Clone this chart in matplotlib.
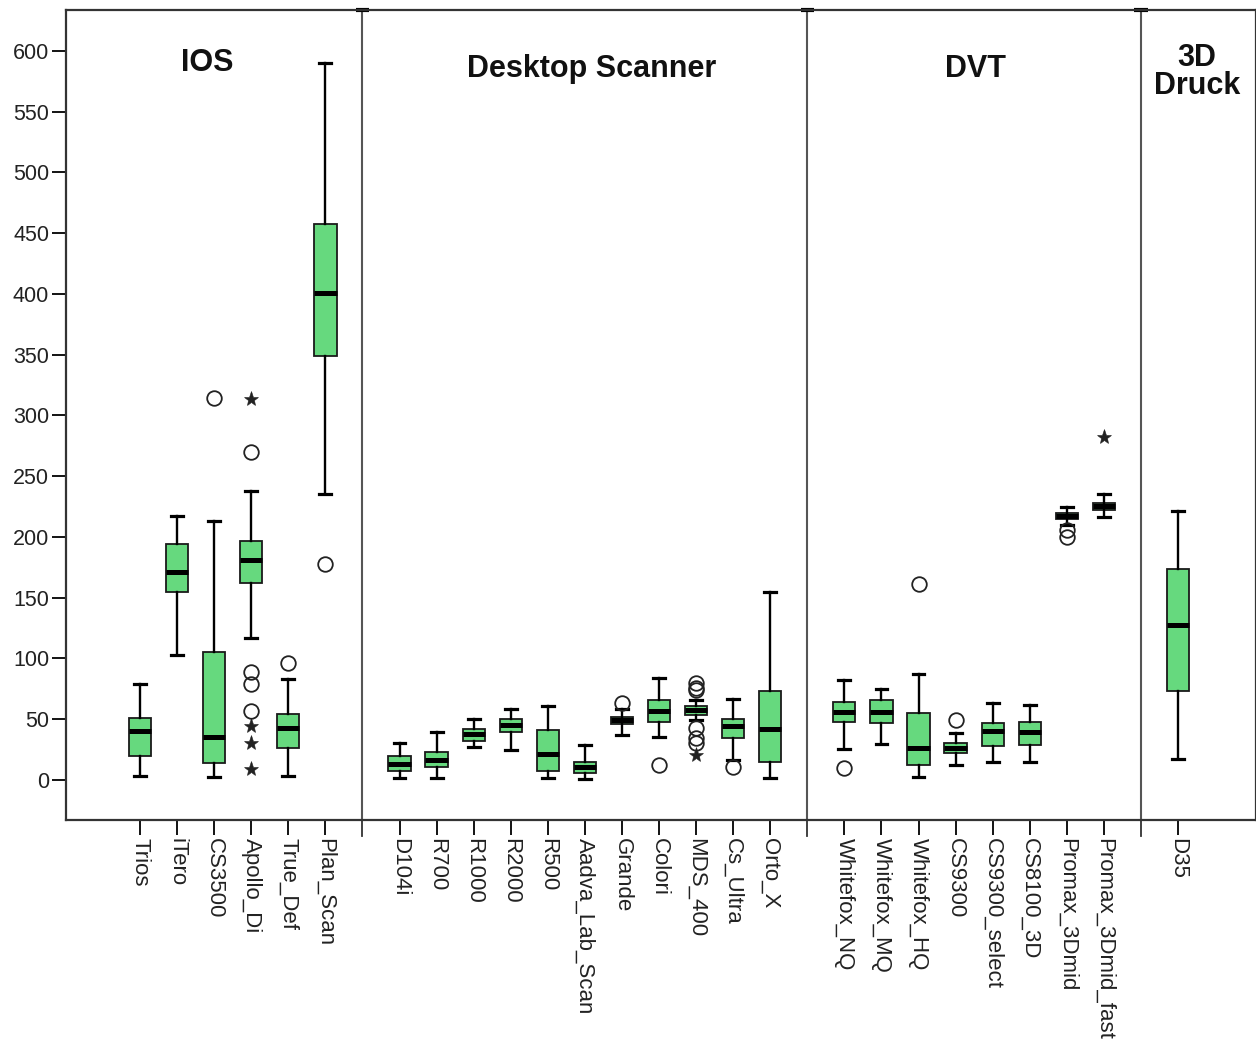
import matplotlib
matplotlib.use("Agg")
import matplotlib.pyplot as plt
from matplotlib.lines import Line2D

plt.rcParams['font.family'] = ['Liberation Sans', 'DejaVu Sans']

# ---------------- data ----------------
groups = ["IOS", "Desktop Scanner", "DVT", "3D\nDruck"]
group_sizes = [6, 11, 8, 1]

names = ["Trios", "iTero", "CS3500", "Apollo_Di", "True_Def", "Plan_Scan",
         "D104i", "R700", "R1000", "R2000", "R500", "Aadva_Lab_Scan", "Grande",
         "Colori", "MDS_400", "Cs_Ultra", "Orto_X",
         "Whitefox_NQ", "Whitefox_MQ", "Whitefox_HQ", "CS9300", "CS9300_select",
         "CS8100_3D", "Promax_3Dmid", "Promax_3Dmid_fast",
         "D35"]

whislo = [3.6, 102.5, 2, 117, 3, 235.5,
          1.4, 1.4, 27, 24.7, 1.4, 0.5, 37, 35.7, 49, 16.5, 1.4,
          25.5, 29.6, 2.7, 12.3, 14.5, 14.5, 210, 216.7,
          17.3]
q1 = [20, 155, 14, 162, 26, 349,
      7, 10.4, 32, 39.8, 7.4, 5.5, 46, 48, 53.5, 34.3, 14.5,
      48, 46.6, 12.3, 22, 28, 28.4, 214.5, 222.2,
      73.3]
med = [40, 171, 35, 181, 43, 401,
       13, 16, 37.6, 45.3, 21.4, 10.4, 49, 57, 57.3, 44.7, 41.7,
       55.7, 55.7, 26, 26.6, 40.3, 39.8, 217.3, 225.5,
       127.6]
q3 = [51, 194, 105.6, 197, 54, 457.7,
      19.7, 23, 42, 50.2, 41, 14.8, 52, 65.8, 61, 50, 73.2,
      64.5, 65.8, 54.9, 30.2, 46.6, 48, 220, 228.2,
      173.4]
whishi = [79, 217, 213, 238, 83, 590,
          30.7, 39.5, 50, 58.7, 61, 28.5, 58.7, 83.7, 66, 66.4, 155,
          82.3, 74.6, 87.2, 39, 63.6, 61.7, 225, 235.4,
          221.4]
# outliers shown as open circles
circles = [[], [], [314], [270, 89, 79, 57], [96], [177.4],
           [], [], [], [], [], [], [63], [12.3], [79.5, 76, 74, 42.5, 34.3, 30], [11], [],
           [10.1], [], [161.3], [49.4], [], [], [205.8, 200.3], [],
           []]
# extreme values shown as stars
stars = [[], [], [], [313.7, 44, 30, 9], [], [],
         [], [], [], [], [], [], [], [], [20.6], [], [],
         [], [], [], [], [], [], [], [282],
         []]

yticks = [0, 50, 100, 150, 200, 250, 300, 350, 400, 450, 500, 550, 600]

# ---------------- layout ----------------
W, H = 1256, 1044
fig = plt.figure(figsize=(W / 100, H / 100), dpi=100)
left_px, right_px, top_px, bot_px = 65.9, 1255.5, 10, 820
ax = fig.add_axes([left_px / W, 1 - bot_px / H, (right_px - left_px) / W, (bot_px - top_px) / H])

unit = 37.07
positions = []
dividers = []
start = 2
for gi, n in enumerate(group_sizes):
    positions += list(range(start, start + n))
    div = start + n
    if gi < len(group_sizes) - 1:
        dividers.append(div)
    start = div + 1
xmax = (right_px - left_px) / unit

def px2x(px):
    return (px - left_px) / unit

def px2y(py):
    return (780 - py) / 1.215

green = "#66D97E"
stats = []
for i in range(len(names)):
    stats.append(dict(label=names[i], whislo=whislo[i], q1=q1[i], med=med[i],
                      q3=q3[i], whishi=whishi[i], fliers=[]))

ax.bxp(stats, positions=positions, widths=0.6, patch_artist=True,
       showfliers=False,
       boxprops=dict(facecolor=green, edgecolor="#1a1a1a", linewidth=1.3),
       medianprops=dict(color="black", linewidth=3.6, solid_capstyle="butt"),
       whiskerprops=dict(color="black", linewidth=1.7),
       capprops=dict(color="black", linewidth=2.3),
       capwidths=0.32)

for p, c, s in zip(positions, circles, stars):
    if c:
        ax.plot([p] * len(c), c, linestyle="none", marker="o", markersize=10.5,
                markerfacecolor="none", markeredgecolor="#222222", markeredgewidth=1.3,
                zorder=4)
    if s:
        ax.plot([p] * len(s), s, linestyle="none", marker="*", markersize=11,
                color="#222222", markeredgewidth=0.4, zorder=4)

ax.set_xlim(0, xmax)
ax.set_ylim(-33, 633.7)

# dividers
for d in dividers:
    ax.add_line(Line2D([d, d], [-33, 633.7], color="#555555", linewidth=1.5, zorder=1))
    ln = Line2D([d, d], [0, -0.02], transform=ax.get_xaxis_transform(),
                color="#333333", linewidth=1.3, clip_on=False)
    ax.add_line(ln)
    top = Line2D([d - 0.18, d + 0.18], [1, 1], transform=ax.get_xaxis_transform(),
                 color="black", linewidth=3.0, clip_on=False, solid_capstyle="butt")
    ax.add_line(top)

# panel titles
title_px = [(207, 63), (592, 69), (975, 69), (1197, 72)]
for g, (tx, ty) in zip(groups, title_px):
    ax.text(px2x(tx), px2y(ty), g, ha="center", va="center",
            fontsize=22, fontweight="bold", color="#111111", linespacing=0.95)

ax.set_yticks(yticks)
ax.set_yticklabels([str(v) for v in yticks], fontsize=15.5, color="#222222")
ax.set_xticks(positions)
ax.set_xticklabels(names, rotation=-90, fontsize=16, color="#222222",
                   va="top", ha="center")
ax.tick_params(axis="y", direction="out", length=10, width=1.3, pad=2)
ax.tick_params(axis="x", direction="out", length=11, width=1.3, pad=2)
for sp in ax.spines.values():
    sp.set_linewidth(1.6)
    sp.set_color("#333333")

fig.savefig("out.png", dpi=100)
